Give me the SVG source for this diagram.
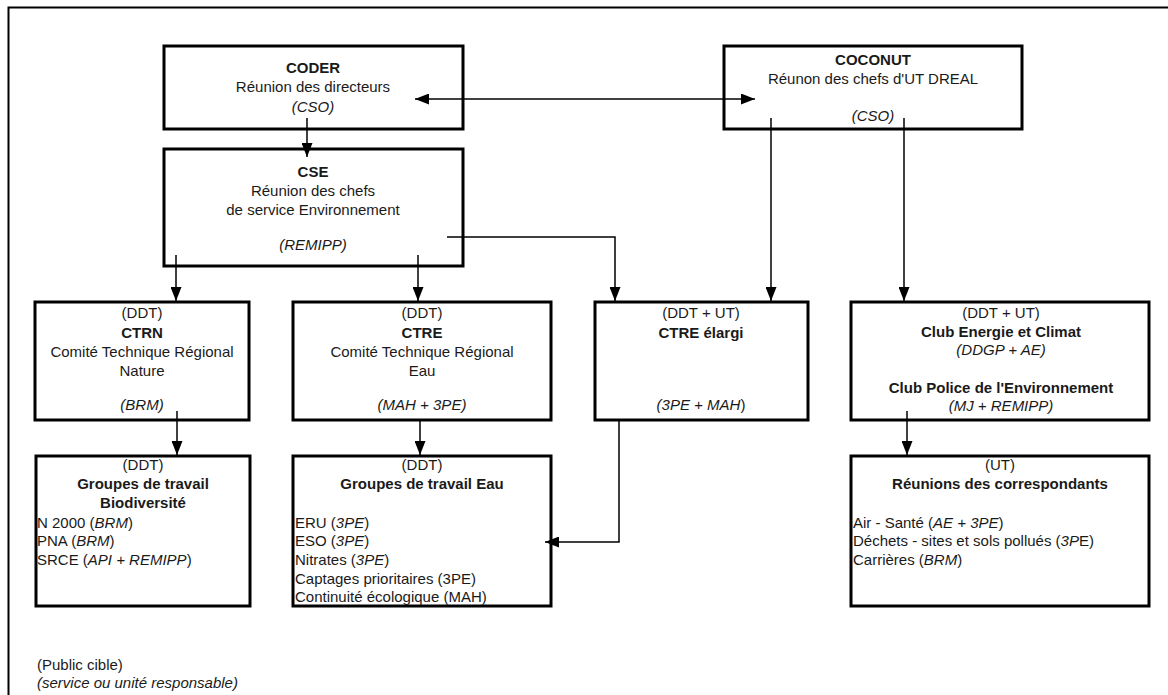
<svg xmlns="http://www.w3.org/2000/svg" width="1168" height="695" viewBox="0 0 1168 695">
<defs>
<style>
text{font-family:"Liberation Sans",Arial,sans-serif;font-size:15px;fill:#1a1a1a}
.c{text-anchor:middle}
.b{font-weight:bold}
.i{font-style:italic}
.box{fill:#fff;stroke:#000;stroke-width:3}
.ln{fill:none;stroke:#000;stroke-width:1.5}
</style>
<marker id="ah" viewBox="0 0 14 11" refX="14" refY="5.5" markerWidth="14" markerHeight="11" markerUnits="userSpaceOnUse" orient="auto-start-reverse">
<path d="M0,0 L14,5.5 L0,11 z" fill="#000"/>
</marker>
</defs>
<rect width="1168" height="695" fill="#fff"/>
<path d="M8.5,695 V7.5 H1168" fill="none" stroke="#000" stroke-width="2"/>

<g id="coder">
<rect class="box" x="164" y="46" width="299" height="83"/>
<text class="c b" x="313" y="73">CODER</text>
<text class="c" x="313" y="92">Réunion des directeurs</text>
<text class="c i" x="313" y="112">(CSO)</text>
</g>
<g id="cse">
<rect class="box" x="164" y="149" width="299" height="117"/>
<text class="c b" x="313" y="177">CSE</text>
<text class="c" x="313" y="196">Réunion des chefs</text>
<text class="c" x="313" y="215">de service Environnement</text>
<text class="c i" x="313" y="250">(REMIPP)</text>
</g>
<g id="coconut">
<rect class="box" x="724" y="46" width="298" height="83"/>
<text class="c b" x="873" y="65">COCONUT</text>
<text class="c" x="873" y="84">Réunon des chefs d'UT DREAL</text>
<text class="c i" x="873" y="121">(CSO)</text>
</g>
<g id="ctrn">
<rect class="box" x="35" y="302" width="214" height="118"/>
<text class="c" x="142" y="318">(DDT)</text>
<text class="c b" x="142" y="338">CTRN</text>
<text class="c" x="142" y="357">Comité Technique Régional</text>
<text class="c" x="142" y="376">Nature</text>
<text class="c i" x="142" y="410">(BRM)</text>
</g>
<g id="ctre">
<rect class="box" x="293" y="302" width="258" height="118"/>
<text class="c" x="422" y="318">(DDT)</text>
<text class="c b" x="422" y="338">CTRE</text>
<text class="c" x="422" y="357">Comité Technique Régional</text>
<text class="c" x="422" y="376">Eau</text>
<text class="c i" x="422" y="410">(MAH + 3PE)</text>
</g>
<g id="ctre-elargi">
<rect class="box" x="595" y="302" width="213" height="118"/>
<text class="c" x="701" y="318">(DDT + UT)</text>
<text class="c b" x="701" y="338">CTRE élargi</text>
<text class="c" x="701" y="410"><tspan class="i">(3PE + MAH</tspan>)</text>
</g>
<g id="club">
<rect class="box" x="851" y="302" width="298" height="118"/>
<text class="c" x="1001" y="318">(DDT + UT)</text>
<text class="c b" x="1001" y="337">Club Energie et Climat</text>
<text class="c i" x="1001" y="355">(DDGP + AE)</text>
<text class="c b" x="1001" y="393">Club Police de l'Environnement</text>
<text class="c i" x="1001" y="411">(MJ + REMIPP)</text>
</g>
<g id="gt-biodiversite">
<rect class="box" x="36" y="456" width="214" height="150"/>
<text class="c" x="143" y="470">(DDT)</text>
<text class="c b" x="143" y="489">Groupes de travail</text>
<text class="c b" x="143" y="508">Biodiversité</text>
<text x="37" y="528">N 2000 (<tspan class="i">BRM</tspan>)</text>
<text x="37" y="546">PNA (<tspan class="i">BRM</tspan>)</text>
<text x="37" y="565">SRCE (<tspan class="i">API + REMIPP</tspan>)</text>
</g>
<g id="gt-eau">
<rect class="box" x="293" y="456" width="258" height="150"/>
<text class="c" x="422" y="470">(DDT)</text>
<text class="c b" x="422" y="489">Groupes de travail Eau</text>
<text x="295" y="528">ERU (<tspan class="i">3PE</tspan>)</text>
<text x="295" y="546">ESO (<tspan class="i">3PE</tspan>)</text>
<text x="295" y="565">Nitrates (<tspan class="i">3PE</tspan>)</text>
<text x="295" y="584">Captages prioritaires (3PE)</text>
<text x="295" y="602">Continuité écologique (MAH)</text>
</g>
<g id="reunions">
<rect class="box" x="851" y="456" width="298" height="150"/>
<text class="c" x="1000" y="470">(UT)</text>
<text class="c b" x="1000" y="489">Réunions des correspondants</text>
<text x="853" y="528">Air - Santé (<tspan class="i">AE + 3PE</tspan>)</text>
<text x="853" y="546">Déchets - sites et sols pollués (<tspan class="i">3P</tspan>E)</text>
<text x="853" y="565">Carrières (<tspan class="i">BRM</tspan>)</text>
</g>
<g id="legend">
<text x="37" y="670">(Public cible)</text>
<text class="i" x="37" y="688">(service ou unité responsable)</text>
</g>

<g id="connectors">
<path class="ln" d="M307,118 V157" marker-end="url(#ah)"/>
<path class="ln" d="M415,99 H755" marker-start="url(#ah)" marker-end="url(#ah)"/>
<path class="ln" d="M771,118 V301" marker-end="url(#ah)"/>
<path class="ln" d="M904,118 V301" marker-end="url(#ah)"/>
<path class="ln" d="M176,255 V301" marker-end="url(#ah)"/>
<path class="ln" d="M418,255 V301" marker-end="url(#ah)"/>
<path class="ln" d="M447,237 H615 V301" marker-end="url(#ah)"/>
<path class="ln" d="M177,411 V455" marker-end="url(#ah)"/>
<path class="ln" d="M420,421 V455" marker-end="url(#ah)"/>
<path class="ln" d="M619,421 V542 H545" marker-end="url(#ah)"/>
<path class="ln" d="M907,411 V455" marker-end="url(#ah)"/>
</g>
</svg>
